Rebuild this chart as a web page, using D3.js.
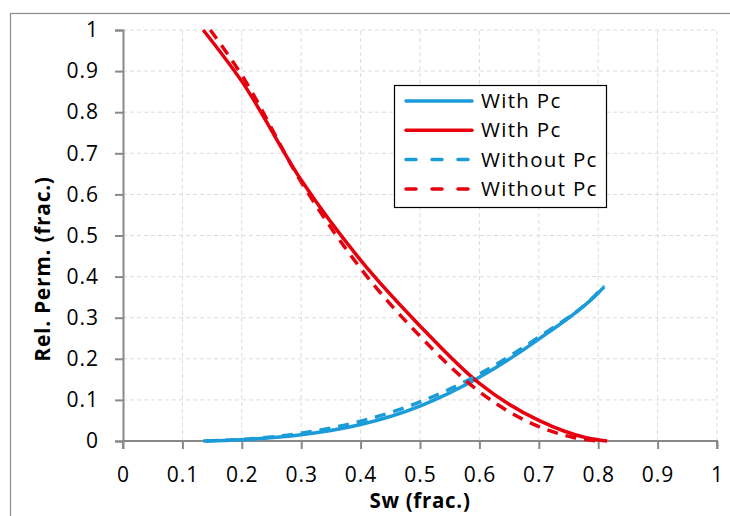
<!DOCTYPE html>
<html>
<head>
<meta charset="utf-8">
<script src="https://cdn.jsdelivr.net/npm/d3@7"></script>
<style>
  body { margin: 0; background: #fff; }
  svg text { font-family: "Open Sans", Lato, sans-serif; fill: #000; }
</style>
</head>
<body>
<div id="chart"></div>
<script>
// relative permeability curves
var swWithPcW = [0.135, 0.2, 0.3, 0.4, 0.5, 0.6, 0.7, 0.8, 0.81];
var krwWithPc = [0, 0.003, 0.015, 0.04, 0.085, 0.155, 0.248, 0.36, 0.375];

var swWithPcO = [0.135, 0.2, 0.3, 0.4, 0.5, 0.6, 0.7, 0.78, 0.815];
var kroWithPc = [1, 0.875, 0.635, 0.44, 0.28, 0.14, 0.05, 0.008, 0];

var swNoPcW = [0.14, 0.2, 0.3, 0.4, 0.5, 0.6, 0.7, 0.8, 0.81];
var krwNoPc = [0, 0.004, 0.019, 0.048, 0.095, 0.163, 0.253, 0.362, 0.378];

var swNoPcO = [0.147, 0.2, 0.3, 0.4, 0.5, 0.6, 0.7, 0.76, 0.8];
var kroNoPc = [1, 0.89, 0.63, 0.42, 0.255, 0.12, 0.035, 0.008, 0];

var xTicks = [0, 0.1, 0.2, 0.3, 0.4, 0.5, 0.6, 0.7, 0.8, 0.9, 1];
var yTicks = [0, 0.1, 0.2, 0.3, 0.4, 0.5, 0.6, 0.7, 0.8, 0.9, 1];

var legendNames = ['With Pc', 'With Pc', 'Without Pc', 'Without Pc'];

var width = 730,
    height = 516,
    margin = { left: 123, top: 30, right: 13, bottom: 75 },
    blue = '#1b9bd7',
    red = '#e6000e';

var series = [
  { name: legendNames[0], x: swWithPcW, y: krwWithPc, color: blue, dash: null },
  { name: legendNames[1], x: swWithPcO, y: kroWithPc, color: red, dash: null },
  { name: legendNames[2], x: swNoPcW, y: krwNoPc, color: blue, dash: '11,8' },
  { name: legendNames[3], x: swNoPcO, y: kroNoPc, color: red, dash: '11,8' }
];

var svg = d3.select('#chart').append('svg')
  .attr('width', width)
  .attr('height', height);

// outer chart frame
svg.append('rect')
  .attr('x', 10.5).attr('y', 13.5)
  .attr('width', 740).attr('height', 540)
  .attr('fill', 'none')
  .attr('stroke', '#8c8c8c')
  .attr('stroke-width', 1.2);

var x = d3.scaleLinear().domain([0, 1]).range([margin.left, width - margin.right]);
var y = d3.scaleLinear().domain([0, 1]).range([height - margin.bottom, margin.top]);

var grid = svg.append('g').attr('class', 'grid');
grid.selectAll('.gx').data(xTicks.slice(1))
  .enter().append('line')
    .attr('x1', function(d) { return x(d); })
    .attr('x2', function(d) { return x(d); })
    .attr('y1', y(0)).attr('y2', y(1))
    .attr('stroke', '#dcdcdc')
    .attr('stroke-dasharray', '4,3');
grid.selectAll('.gy').data(yTicks.slice(1))
  .enter().append('line')
    .attr('x1', x(0)).attr('x2', x(1))
    .attr('y1', function(d) { return y(d); })
    .attr('y2', function(d) { return y(d); })
    .attr('stroke', '#dcdcdc')
    .attr('stroke-dasharray', '4,3');

// axes
var xAxis = svg.append('g')
  .attr('transform', 'translate(0,' + y(0) + ')')
  .call(d3.axisBottom(x).tickValues(xTicks).tickFormat(d3.format('')).tickSize(8).tickPadding(18));
var yAxis = svg.append('g')
  .attr('transform', 'translate(' + x(0) + ',0)')
  .call(d3.axisLeft(y).tickValues(yTicks).tickFormat(d3.format('')).tickSize(8).tickPadding(16));

[xAxis, yAxis].forEach(function(a) {
  a.select('.domain').attr('stroke', '#898989').attr('stroke-width', 2);
  a.selectAll('.tick line').attr('stroke', '#898989').attr('stroke-width', 2);
  a.selectAll('.tick text').attr('font-size', 21).attr('fill', '#000')
    .attr('letter-spacing', 1)
    .style('font-family', '"Open Sans", Lato, sans-serif');
});
xAxis.select('.domain').attr('d', 'M' + x(0) + ',8V0H' + x(1) + 'V8');

// curves
var line = d3.line()
  .x(function(d) { return x(d[0]); })
  .y(function(d) { return y(d[1]); })
  .curve(d3.curveMonotoneX);

svg.append('g').selectAll('path')
  .data(series)
  .enter().append('path')
    .attr('d', function(s) { return line(d3.zip(s.x, s.y)); })
    .attr('fill', 'none')
    .attr('stroke', function(s) { return s.color; })
    .attr('stroke-width', 3.5)
    .attr('stroke-dasharray', function(s) { return s.dash; });

// axis titles
svg.append('text')
  .attr('x', x(0.5)).attr('y', 508)
  .attr('text-anchor', 'middle')
  .attr('font-size', 20.5).attr('font-weight', 'bold')
  .attr('letter-spacing', 0.7)
  .text('Sw (frac.)');
svg.append('text')
  .attr('transform', 'translate(50,269) rotate(-90)')
  .attr('text-anchor', 'middle')
  .attr('font-size', 21).attr('font-weight', 'bold')
  .attr('letter-spacing', 0.7)
  .text('Rel. Perm. (frac.)');

// legend
var legend = svg.append('g').attr('transform', 'translate(394,85)');
legend.append('rect')
  .attr('x', 0.5).attr('y', 0.5)
  .attr('width', 212).attr('height', 122)
  .attr('fill', '#fff')
  .attr('stroke', '#000')
  .attr('stroke-width', 1.2);
var item = legend.selectAll('.item').data(series)
  .enter().append('g')
    .attr('transform', function(d, i) { return 'translate(0,' + (16 + i * 29.3) + ')'; });
item.append('line')
  .attr('x1', 12).attr('x2', 78)
  .attr('stroke', function(d) { return d.color; })
  .attr('stroke-width', 3.5)
  .attr('stroke-linecap', 'round')
  .attr('stroke-dasharray', function(d) { return d.dash ? '10,16' : null; });
item.append('text')
  .attr('x', 87).attr('dy', '0.35em')
  .attr('font-size', 20.5)
  .attr('letter-spacing', 1.3)
  .text(function(d) { return d.name; });
</script>
</body>
</html>
